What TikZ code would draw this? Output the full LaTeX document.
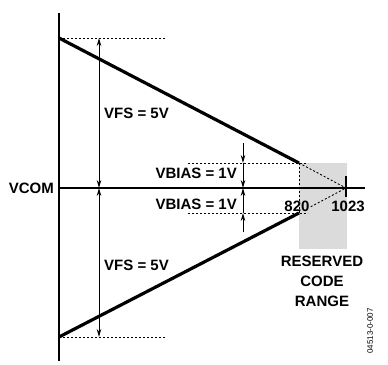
\documentclass[tikz,border=0pt]{standalone}
\usepackage{fontspec}
\setmainfont{Liberation Sans}
\usetikzlibrary{arrows.meta,calc}

\begin{document}
\begin{tikzpicture}[x=1pt,y=-1pt,
    lbl/.style={font=\bfseries\fontsize{15}{20}\selectfont, inner sep=0pt},
    dimline/.style={line width=0.9pt},
    tip/.style={-{Stealth[length=8pt,width=4.5pt]}},
    guide/.style={line width=0.9pt, dash pattern=on 2pt off 2pt}]
    \useasboundingbox (0,0) rectangle (388,364);
    % reserved range
    \fill[black!14] (299,163) rectangle (347,249);
    \coordinate (top) at (59,38);
    \coordinate (bot) at (59,337);
    \coordinate (hi) at (299,163);
    \coordinate (lo) at (299,213);
    \coordinate (end) at (346,188);
    % axes
    \draw[line width=1.7pt] (59,13) -- (59,361);
    \draw[line width=1.7pt] (59,188) -- (365,188);
    \draw[line width=1.3pt] (346,176) -- (346,197);
    % guides
    \draw[guide] (top) -- (165,38);
    \draw[guide] (bot) -- (165,337);
    \draw[guide] (188,163) -- (308,163);
    \draw[guide] (188,213) -- (308,213);
    \draw[guide] (hi) -- (lo);
    \draw[guide] (hi) -- (end);
    \draw[guide] ($(lo)!0.25!(end)$) -- (end);
    % ramps
    \draw[line width=3.2pt] (top) -- (hi);
    \draw[line width=3.2pt] (bot) -- (lo);
    % VFS arrows
    \draw[dimline, {Stealth[length=8pt,width=4.5pt]}-{Stealth[length=8pt,width=4.5pt]}] (99,38) -- (99,188);
    \draw[dimline, {Stealth[length=8pt,width=4.5pt]}-{Stealth[length=8pt,width=4.5pt]}] (99,188) -- (99,337);
    % VBIAS arrows
    \draw[dimline, tip] (243,143) -- (243,163);
    \draw[dimline, tip] (243,163) -- (243,188);
    \draw[dimline, tip] (243,213) -- (243,188);
    \draw[dimline, tip] (243,232) -- (243,213);
    % labels
    \node[lbl, anchor=west] (vfsa) at (104,113) {VFS = 5V};
    \node[lbl, anchor=west] (vfsb) at (104,265) {VFS = 5V};
    \node[lbl, anchor=east] (vba) at (237,173) {VBIAS = 1V};
    \node[lbl, anchor=east] (vbb) at (237,204) {VBIAS = 1V};
    \node[lbl, anchor=east] (vcom) at (54,188) {VCOM};
    \node[lbl] (c820) at (297,206) {820};
    \node[lbl] (c1023) at (348,206) {1023};
    \node[lbl, align=center] (rsv) at (322,281) {RESERVED\\CODE\\RANGE};
    \node[rotate=90, font=\fontsize{8}{9}\selectfont, inner sep=0pt] (code) at (370,331) {04513-0-007};
\end{tikzpicture}
\end{document}
